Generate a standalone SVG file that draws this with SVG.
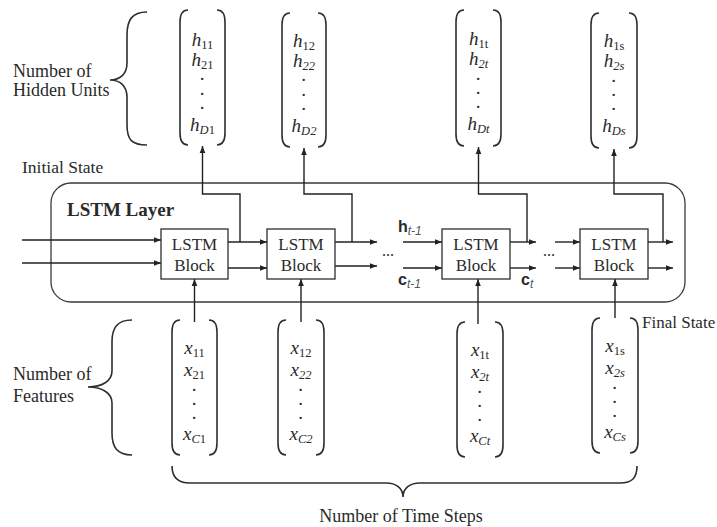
<svg xmlns="http://www.w3.org/2000/svg" width="717" height="527" viewBox="0 0 717 527">
<defs>
<style>
.t{font-family:"Liberation Serif","Times New Roman",serif;fill:#2a2a2a}
.lbl{font-size:18px}
.v{font-size:19px;font-style:italic;text-anchor:middle}
.s{font-size:12.5px}
.u{font-style:normal}
.blk rect{fill:#fff;stroke:#2e2e2e;stroke-width:1.3}
.blk text{font-size:17px;text-anchor:middle}
.br{fill:none;stroke:#2e2e2e;stroke-width:1.6}
.ln{fill:none;stroke:#222;stroke-width:1.4}
.arr{marker-end:url(#ah)}
.sans{font-family:"Liberation Sans",Arial,sans-serif;font-weight:bold;font-size:16px;fill:#2a2a2a}
.sub{font-style:italic;font-weight:normal;font-size:12px;fill:#555}
</style>
<marker id="ah" viewBox="0 0 10 10" refX="10" refY="5" markerWidth="8" markerHeight="7" markerUnits="userSpaceOnUse" orient="auto"><path d="M0,1 L10,5 L0,9 z" fill="#222"/></marker>
</defs>
<rect width="717" height="527" fill="#fff"/>

<g id="layer">
<rect x="51" y="183" width="634" height="119" rx="20" fill="none" stroke="#3a3a3a" stroke-width="1.3"/>
<text class="t" x="67" y="216" font-size="19" font-weight="bold">LSTM Layer</text>
</g>

<g id="labels">
<text class="t lbl" x="13" y="77">Number of</text>
<text class="t lbl" x="13" y="96">Hidden Units</text>
<text class="t" x="22" y="173" font-size="17.5">Initial State</text>
<text class="t lbl" x="13" y="380">Number of</text>
<text class="t lbl" x="13" y="402">Features</text>
<text class="t" x="642" y="328" font-size="17">Final State</text>
<text class="t lbl" x="401" y="522" text-anchor="middle">Number of Time Steps</text>
<text class="sans" x="398" y="232">h<tspan class="sub" dy="3">t-1</tspan></text>
<text class="sans" x="398" y="285">c<tspan class="sub" dy="3">t-1</tspan></text>
<text class="sans" x="521" y="285">c<tspan class="sub" dy="3">t</tspan></text>
<text class="t" x="382" y="256" font-size="16">...</text>
<text class="t" x="543" y="256" font-size="16">...</text>
</g>

<g id="braces">
<path class="br" d="M147,12 C132,12 127,20 127,35 L127,63 C127,74 120,80 110,80 C120,80 127,86 127,97 L127,125 C127,140 132,145 147,145"/>
<path class="br" d="M132,320 C117,320 112,328 112,342 L112,371 C112,381 102,387 88,387 C102,387 112,393 112,403 L112,433 C112,447 117,455 132,455"/>
<path class="br" d="M172,466 C172,478 178,483 190,483 L386,483 C396,483 403,488 403,497 C403,488 410,483 420,483 L620,483 C632,483 637,478 637,466"/>
</g>

<g id="h1">
<path class="br" d="M188,10 C182,10 180,14 180,22 V133 C180,141 182,145 188,145"/>
<path class="br" d="M217,10 C223,10 225,14 225,22 V133 C225,141 223,145 217,145"/>
<text class="t v"><tspan x="202.5" y="46">h</tspan><tspan class="s u" dy="3">11</tspan><tspan x="202.5" y="66">h</tspan><tspan class="s u" dy="3">21</tspan><tspan x="202.5" y="80">.</tspan><tspan x="202.5" y="95">.</tspan><tspan x="202.5" y="109">.</tspan><tspan x="202.5" y="131">h</tspan><tspan class="s" dy="3">D</tspan><tspan class="s u">1</tspan></text>
</g>
<g id="h2">
<path class="br" d="M290,13 C284,13 282,17 282,25 V135 C282,143 284,147 290,147"/>
<path class="br" d="M318,13 C324,13 326,17 326,25 V135 C326,143 324,147 318,147"/>
<text class="t v"><tspan x="304" y="47">h</tspan><tspan class="s u" dy="3">12</tspan><tspan x="304" y="67">h</tspan><tspan class="s" dy="3">22</tspan><tspan x="304" y="81">.</tspan><tspan x="304" y="96">.</tspan><tspan x="304" y="110">.</tspan><tspan x="304" y="132">h</tspan><tspan class="s" dy="3">D2</tspan></text>
</g>
<g id="ht">
<path class="br" d="M464,10 C458,10 456,14 456,22 V134 C456,142 458,146 464,146"/>
<path class="br" d="M493,10 C499,10 501,14 501,22 V134 C501,142 499,146 493,146"/>
<text class="t v"><tspan x="478.5" y="45">h</tspan><tspan class="s u" dy="3">1t</tspan><tspan x="478.5" y="65">h</tspan><tspan class="s" dy="3">2t</tspan><tspan x="478.5" y="80">.</tspan><tspan x="478.5" y="94">.</tspan><tspan x="478.5" y="108">.</tspan><tspan x="478.5" y="130">h</tspan><tspan class="s" dy="3">Dt</tspan></text>
</g>
<g id="hs">
<path class="br" d="M599,13 C593,13 591,17 591,25 V136 C591,144 593,148 599,148"/>
<path class="br" d="M629,13 C635,13 637,17 637,25 V136 C637,144 635,148 629,148"/>
<text class="t v"><tspan x="614" y="47">h</tspan><tspan class="s u" dy="3">1s</tspan><tspan x="614" y="67">h</tspan><tspan class="s" dy="3">2s</tspan><tspan x="614" y="82">.</tspan><tspan x="614" y="96">.</tspan><tspan x="614" y="110">.</tspan><tspan x="614" y="132">h</tspan><tspan class="s" dy="3">Ds</tspan></text>
</g>

<g id="x1">
<path class="br" d="M180,320 C174,320 172,324 172,332 V443 C172,451 174,455 180,455"/>
<path class="br" d="M209,320 C215,320 217,324 217,332 V443 C217,451 215,455 209,455"/>
<text class="t v"><tspan x="194.5" y="354">x</tspan><tspan class="s u" dy="3">11</tspan><tspan x="194.5" y="376">x</tspan><tspan class="s u" dy="3">21</tspan><tspan x="194.5" y="391">.</tspan><tspan x="194.5" y="405">.</tspan><tspan x="194.5" y="419">.</tspan><tspan x="194.5" y="440">x</tspan><tspan class="s" dy="3">C</tspan><tspan class="s u">1</tspan></text>
</g>
<g id="x2">
<path class="br" d="M286,320 C280,320 278,324 278,332 V443 C278,451 280,455 286,455"/>
<path class="br" d="M316,320 C322,320 324,324 324,332 V443 C324,451 322,455 316,455"/>
<text class="t v"><tspan x="301" y="354">x</tspan><tspan class="s u" dy="3">12</tspan><tspan x="301" y="376">x</tspan><tspan class="s" dy="3">22</tspan><tspan x="301" y="391">.</tspan><tspan x="301" y="405">.</tspan><tspan x="301" y="419">.</tspan><tspan x="301" y="440">x</tspan><tspan class="s" dy="3">C2</tspan></text>
</g>
<g id="xt">
<path class="br" d="M465,322 C459,322 457,326 457,334 V445 C457,453 459,457 465,457"/>
<path class="br" d="M495,322 C501,322 503,326 503,334 V445 C503,453 501,457 495,457"/>
<text class="t v"><tspan x="480" y="356">x</tspan><tspan class="s u" dy="3">1t</tspan><tspan x="480" y="378">x</tspan><tspan class="s" dy="3">2t</tspan><tspan x="480" y="393">.</tspan><tspan x="480" y="407">.</tspan><tspan x="480" y="421">.</tspan><tspan x="480" y="442">x</tspan><tspan class="s" dy="3">Ct</tspan></text>
</g>
<g id="xs">
<path class="br" d="M600,318 C594,318 592,322 592,330 V441 C592,449 594,453 600,453"/>
<path class="br" d="M630,318 C636,318 638,322 638,330 V441 C638,449 636,453 630,453"/>
<text class="t v"><tspan x="615" y="352">x</tspan><tspan class="s u" dy="3">1s</tspan><tspan x="615" y="374">x</tspan><tspan class="s" dy="3">2s</tspan><tspan x="615" y="389">.</tspan><tspan x="615" y="403">.</tspan><tspan x="615" y="417">.</tspan><tspan x="615" y="438">x</tspan><tspan class="s" dy="3">Cs</tspan></text>
</g>

<g id="connectors">
<path class="ln arr" d="M22,240 H161"/>
<path class="ln arr" d="M22,263 H161"/>
<path class="ln arr" d="M228,242 H267"/>
<path class="ln arr" d="M228,268 H267"/>
<path class="ln arr" d="M240,242 V194 H202.5 V146"/>
<path class="ln arr" d="M335,242 H377"/>
<path class="ln arr" d="M335,266 H377"/>
<path class="ln arr" d="M352,242 V194 H304 V148"/>
<path class="ln arr" d="M403,242 H442"/>
<path class="ln arr" d="M403,268 H442"/>
<path class="ln arr" d="M510,242 H536"/>
<path class="ln arr" d="M510,268 H536"/>
<path class="ln arr" d="M527,242 V194 H478.5 V147"/>
<path class="ln arr" d="M555,242 H580"/>
<path class="ln arr" d="M555,268 H580"/>
<path class="ln arr" d="M648,242 H673"/>
<path class="ln arr" d="M648,268 H673"/>
<path class="ln arr" d="M663,242 V194 H614 V149"/>
<path class="ln arr" d="M194.5,322 V279"/>
<path class="ln arr" d="M301,322 V279"/>
<path class="ln arr" d="M478,324 V279"/>
<path class="ln arr" d="M615,318 V279"/>
</g>

<g id="block1" class="blk"><rect x="161" y="229" width="67" height="50"/><text class="t" x="194.5" y="250">LSTM</text><text class="t" x="194.5" y="271">Block</text></g>
<g id="block2" class="blk"><rect x="267" y="229" width="68" height="50"/><text class="t" x="301" y="250">LSTM</text><text class="t" x="301" y="271">Block</text></g>
<g id="block3" class="blk"><rect x="442" y="229" width="68" height="50"/><text class="t" x="476" y="250">LSTM</text><text class="t" x="476" y="271">Block</text></g>
<g id="block4" class="blk"><rect x="580" y="229" width="68" height="50"/><text class="t" x="614" y="250">LSTM</text><text class="t" x="614" y="271">Block</text></g>
</svg>
